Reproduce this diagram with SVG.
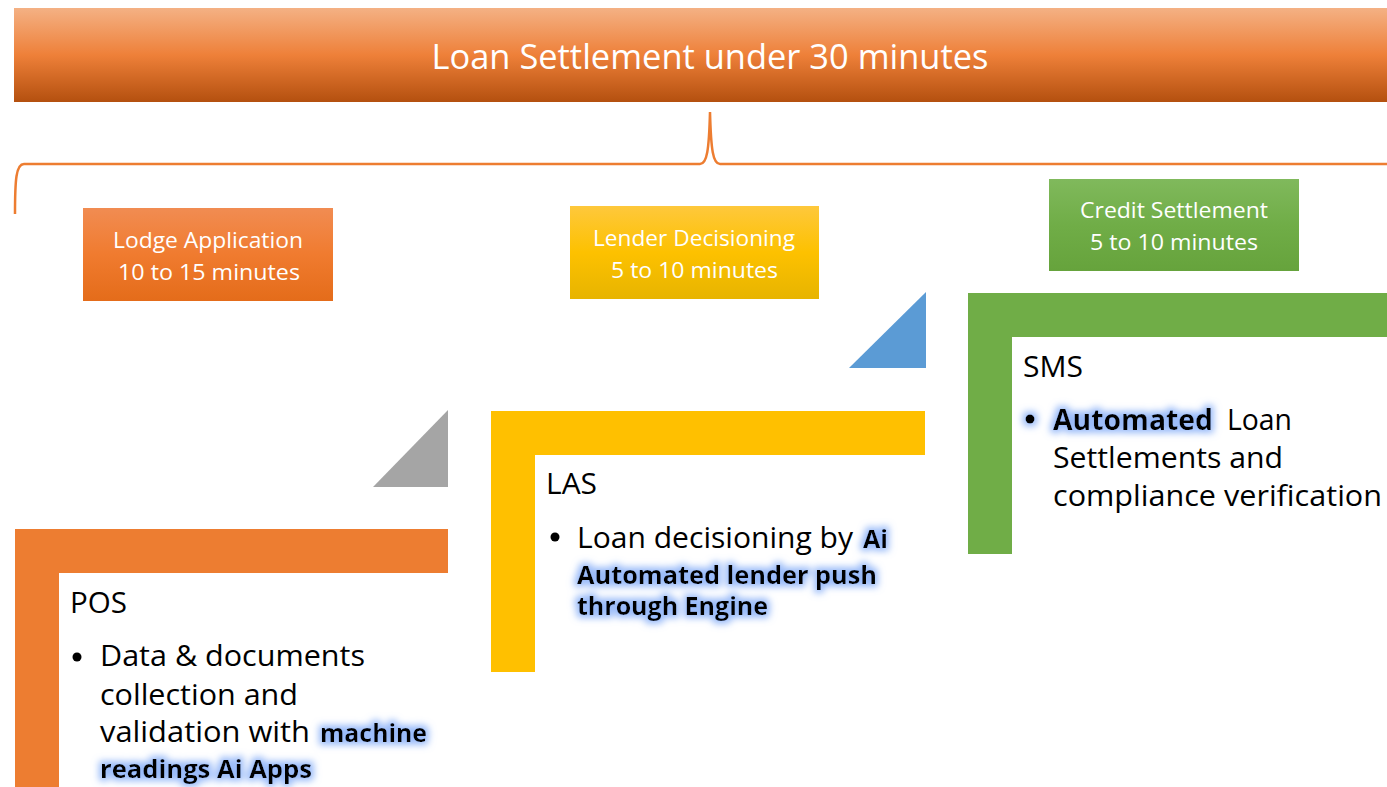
<svg xmlns="http://www.w3.org/2000/svg" width="1387" height="787" viewBox="0 0 1387 787">
<defs>
<linearGradient id="gTitle" x1="0" y1="0" x2="0" y2="1">
<stop offset="0" stop-color="#f4b184"/>
<stop offset="0.5" stop-color="#ee8039"/>
<stop offset="1" stop-color="#b4500f"/>
</linearGradient>
<linearGradient id="gOrange" x1="0" y1="0" x2="0" y2="1">
<stop offset="0" stop-color="#f18c52"/>
<stop offset="0.5" stop-color="#f07b2f"/>
<stop offset="1" stop-color="#e46c1a"/>
</linearGradient>
<linearGradient id="gYellow" x1="0" y1="0" x2="0" y2="1">
<stop offset="0" stop-color="#fec83c"/>
<stop offset="0.5" stop-color="#fdc100"/>
<stop offset="1" stop-color="#e7b400"/>
</linearGradient>
<linearGradient id="gGreen" x1="0" y1="0" x2="0" y2="1">
<stop offset="0" stop-color="#80b95c"/>
<stop offset="0.5" stop-color="#70ad47"/>
<stop offset="1" stop-color="#66a33c"/>
</linearGradient>
<filter id="glow" x="-15%" y="-60%" width="130%" height="220%">
<feMorphology in="SourceAlpha" operator="dilate" radius="3" result="d"/>
<feGaussianBlur in="d" stdDeviation="3.5" result="b"/>
<feFlood flood-color="#8fb4f8" flood-opacity="0.9"/>
<feComposite in2="b" operator="in" result="g"/>
<feMerge><feMergeNode in="g"/><feMergeNode in="SourceGraphic"/></feMerge>
</filter>
</defs>
<style>
.w{font-family:"Open Sans","Noto Sans",sans-serif;fill:#ffffff}
.t{font-family:"Open Sans","Noto Sans",sans-serif;fill:#000000}
.b{font-family:"Open Sans","Noto Sans",sans-serif;font-weight:bold;fill:#000000}
.stage{font-size:21px}
.body{font-size:29px}
.bold{font-size:25px}
.brace{fill:none;stroke:#ed7d31;stroke-width:2.5}
</style>

<g id="title">
<rect x="14" y="8" width="1373" height="94" fill="url(#gTitle)"/>
<text class="w" x="710" y="69" font-size="35" text-anchor="middle" textLength="557" lengthAdjust="spacingAndGlyphs">Loan Settlement under 30 minutes</text>
</g>

<g id="connectors">
<path class="brace" d="M15,214 C15,180 16,164 24,164 L700,164 C707,164 709,150 710,112 C711,150 713,164 720,164 L1387,164"/>
</g>

<g id="stage-lodge">
<rect x="83" y="208" width="250" height="93" fill="url(#gOrange)"/>
<text class="w stage" x="208" y="248" text-anchor="middle" textLength="190" lengthAdjust="spacingAndGlyphs">Lodge Application</text>
<text class="w stage" x="209" y="280" text-anchor="middle" textLength="182" lengthAdjust="spacingAndGlyphs">10 to 15 minutes</text>
</g>

<g id="stage-lender">
<rect x="570" y="206" width="249" height="93" fill="url(#gYellow)"/>
<text class="w stage" x="694" y="246" text-anchor="middle" textLength="202" lengthAdjust="spacingAndGlyphs">Lender Decisioning</text>
<text class="w stage" x="694.5" y="278" text-anchor="middle" textLength="167" lengthAdjust="spacingAndGlyphs">5 to 10 minutes</text>
</g>

<g id="stage-credit">
<rect x="1049" y="179" width="250" height="92" fill="url(#gGreen)"/>
<text class="w stage" x="1174" y="218" text-anchor="middle" textLength="188" lengthAdjust="spacingAndGlyphs">Credit Settlement</text>
<text class="w stage" x="1174" y="250" text-anchor="middle" textLength="168" lengthAdjust="spacingAndGlyphs">5 to 10 minutes</text>
</g>

<g id="arrow-gray">
<polygon points="373,487 448,487 448,410" fill="#a5a5a5"/>
</g>
<g id="arrow-blue">
<polygon points="849,368 926,368 926,292" fill="#5b9bd5"/>
</g>

<g id="pos">
<path d="M15,529 H448 V573 H59 V787 H15 Z" fill="#ed7d31"/>
<text class="t body" x="70" y="613" textLength="57" lengthAdjust="spacingAndGlyphs">POS</text>
<circle cx="77" cy="657" r="4.5" fill="#000"/>
<text class="t body" x="100" y="666" textLength="265" lengthAdjust="spacingAndGlyphs">Data &amp; documents</text>
<text class="t body" x="100" y="705" textLength="198" lengthAdjust="spacingAndGlyphs">collection and</text>
<text class="t body" x="100" y="742" textLength="210" lengthAdjust="spacingAndGlyphs">validation with</text>
<g filter="url(#glow)">
<text class="b bold" x="320" y="742" textLength="107" lengthAdjust="spacingAndGlyphs">machine</text>
<text class="b bold" x="100" y="778" textLength="212" lengthAdjust="spacingAndGlyphs">readings Ai Apps</text>
</g>
</g>

<g id="las">
<path d="M491,411 H925 V455 H535 V672 H491 Z" fill="#ffc000"/>
<text class="t body" x="546" y="494" textLength="51" lengthAdjust="spacingAndGlyphs">LAS</text>
<circle cx="555" cy="537" r="4.5" fill="#000"/>
<text class="t body" x="577" y="548" textLength="276" lengthAdjust="spacingAndGlyphs">Loan decisioning by</text>
<g filter="url(#glow)">
<text class="b bold" x="863" y="548" textLength="25" lengthAdjust="spacingAndGlyphs">Ai</text>
<text class="b bold" x="577" y="584" textLength="300" lengthAdjust="spacingAndGlyphs">Automated lender push</text>
<text class="b bold" x="577" y="615" textLength="191" lengthAdjust="spacingAndGlyphs">through Engine</text>
</g>
</g>

<g id="sms">
<path d="M968,293 H1387 V337 H1012 V554 H968 Z" fill="#70ad47"/>
<text class="t body" x="1023" y="377" textLength="60" lengthAdjust="spacingAndGlyphs">SMS</text>
<g filter="url(#glow)">
<circle cx="1030" cy="419" r="4.5" fill="#000"/>
<text class="b body" x="1053" y="430" textLength="160" lengthAdjust="spacingAndGlyphs">Automated</text>
</g>
<text class="t body" x="1227" y="430" textLength="65" lengthAdjust="spacingAndGlyphs">Loan</text>
<text class="t body" x="1053" y="468" textLength="230" lengthAdjust="spacingAndGlyphs">Settlements and</text>
<text class="t body" x="1053" y="506" textLength="329" lengthAdjust="spacingAndGlyphs">compliance verification</text>
</g>
</svg>
